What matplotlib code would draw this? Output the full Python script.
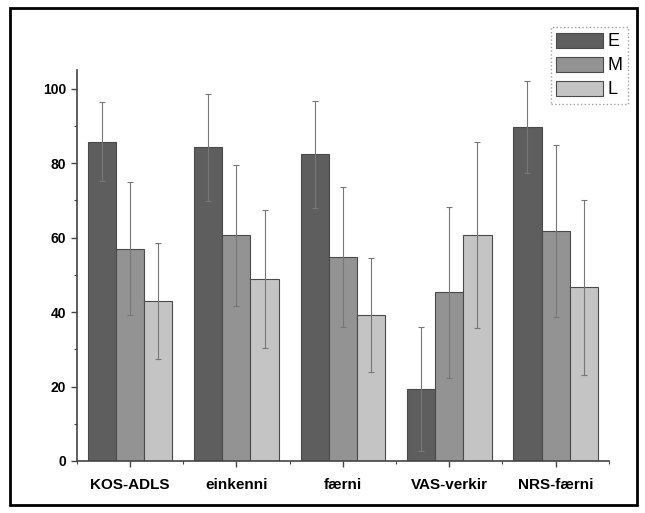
import numpy as np
import matplotlib.pyplot as plt
from matplotlib.patches import Rectangle
from matplotlib.ticker import MultipleLocator, FixedLocator

plt.rcParams['font.family'] = ['Liberation Sans', 'DejaVu Sans']

categories = ['KOS-ADLS', 'einkenni', 'færni', 'VAS-verkir', 'NRS-færni']
groups = ['E', 'M', 'L']
mean_e = [85.8, 84.3, 82.4, 19.4, 89.7]
mean_m = [57.0, 60.6, 54.7, 45.3, 61.8]
mean_l = [43.0, 48.9, 39.2, 60.7, 46.6]
sd_e = [10.5, 14.4, 14.4, 16.7, 12.4]
sd_m = [17.9, 19.0, 18.8, 22.9, 23.1]
sd_l = [15.5, 18.5, 15.4, 24.9, 23.4]

colors = ['#5e5e5e', '#939393', '#c4c4c4']

fig = plt.figure(figsize=(6.45, 5.13), dpi=100)
ax = fig.add_axes([0.119, 0.1014, 0.825, 0.762])

x = np.arange(len(categories))
w = 0.265
for i, (means, sds) in enumerate(zip([mean_e, mean_m, mean_l], [sd_e, sd_m, sd_l])):
    pos = x + (i - 1) * w
    ax.bar(pos, means, width=w, color=colors[i], edgecolor='#4a4a4a',
           linewidth=0.8, label=groups[i], zorder=2)
    ax.errorbar(pos, means, yerr=sds, fmt='none', ecolor='#777777',
                elinewidth=0.8, capsize=2.5, capthick=0.8, zorder=3)

ax.set_xlim(-0.5, len(categories) - 0.5)
ax.set_ylim(0, 105)
ax.set_xticks(x)
ax.set_xticklabels(categories, fontsize=11, fontweight='bold')
ax.xaxis.set_minor_locator(FixedLocator(np.arange(-0.5, len(categories), 1.0)))
ax.yaxis.set_major_locator(MultipleLocator(20))
ax.yaxis.set_minor_locator(MultipleLocator(10))
ax.tick_params(axis='y', labelsize=10)
for lab in ax.get_yticklabels():
    lab.set_fontweight('bold')
ax.tick_params(which='major', length=4, width=1, color='#444444', direction='out')
ax.tick_params(which='minor', length=2.5, width=0.8, color='#444444', direction='out')
ax.tick_params(axis='x', pad=8)

ax.spines['top'].set_visible(False)
ax.spines['right'].set_visible(False)
ax.spines['left'].set_color('#444444')
ax.spines['bottom'].set_color('#444444')
ax.spines['left'].set_linewidth(1.2)
ax.spines['bottom'].set_linewidth(1.2)

leg = ax.legend(loc='upper right', bbox_to_anchor=(0.974, 0.947),
                bbox_transform=fig.transFigure, fontsize=13,
                frameon=True, fancybox=False, handlelength=2.6, handleheight=0.9,
                handletextpad=0.25, borderpad=0.3, labelspacing=0.35,
                borderaxespad=0)
leg.get_frame().set_edgecolor('#888888')
leg.get_frame().set_linestyle(':')
leg.get_frame().set_linewidth(1.0)

# outer frame around the whole figure
fig.patches.append(Rectangle((0.016, 0.016), 0.972, 0.968, transform=fig.transFigure,
                             fill=False, edgecolor='black', linewidth=2))

fig.savefig('out.png', dpi=100)
